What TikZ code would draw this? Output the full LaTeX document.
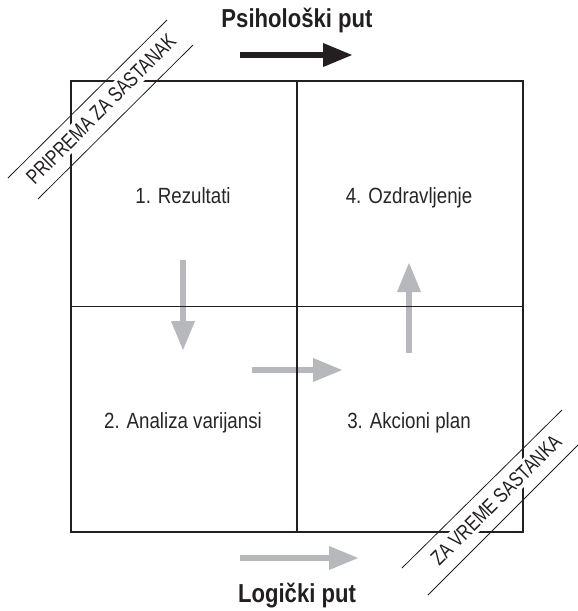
\documentclass[tikz,border=0pt]{standalone}
\usepackage{fontspec}
\usepackage{xcolor}
\usepackage{tikz}
\usetikzlibrary{arrows.meta}
\newfontfamily\narrowfont[FakeStretch=0.85]{Liberation Sans}
\newfontfamily\bandfont[FakeStretch=0.78]{Liberation Sans}
\definecolor{flowgray}{RGB}{183,184,187}
\definecolor{boxline}{RGB}{35,31,32}
\tikzstyle{flowhead}=[>/.tip={Triangle[length=30pt,width=22pt]}]
\tikzstyle{flow}=[line width=6.5pt,flowhead,->,draw=flowgray]
\tikzstyle{cell}=[font=\narrowfont\fontsize{22}{26}\selectfont,text=black!85,anchor=base]
\tikzstyle{heading}=[font=\narrowfont\bfseries\fontsize{26}{30}\selectfont,text=boxline,anchor=base]
\tikzstyle{band}=[font=\bandfont\fontsize{21}{24}\selectfont,text=boxline,fill=white,inner xsep=0pt,inner ysep=3pt,rotate=45]
\tikzstyle{bandline}=[line width=.8pt,draw=boxline]

\begin{document}
\begin{tikzpicture}[x=1pt,y=-1pt]
	\useasboundingbox (0,0) rectangle (578,611);
	% arrows
	\coordinate (ps) at (240,55);   \coordinate (pe) at (353,55);
	\coordinate (ls) at (240,558);  \coordinate (le) at (359,558);
	\coordinate (ds) at (183,260);  \coordinate (de) at (183,351);
	\coordinate (rs) at (252,370);  \coordinate (re) at (343,370);
	\coordinate (us) at (409,353);  \coordinate (ue) at (409,262);
	\draw[flow,draw=boxline] (ps) -- (pe);
	\draw[flow] (ls) -- (le);
	\draw[flow] (ds) -- (de);
	\draw[flow] (rs) -- (re);
	\draw[flow] (us) -- (ue);
	% box
	\coordinate (NW) at (71,81);   \coordinate (SE) at (523,532);
	\coordinate (N) at (297,81);   \coordinate (S) at (297,532);
	\coordinate (W) at (71,306.5); \coordinate (E) at (523,306.5);
	\draw[line width=1.4pt,draw=boxline] (NW) rectangle (SE) (N) -- (S) (W) -- (E);
	\node[cell] (res) at (183,203) {1. Rezultati};
	\node[cell] (ozd) at (409,203) {4. Ozdravljenje};
	\node[cell] (ana) at (183,428) {2. Analiza varijansi};
	\node[cell] (akc) at (409,428) {3. Akcioni plan};
	\node[heading] (psi) at (297,27) {Psihološki put};
	\node[heading] (log) at (297,602) {Logički put};
	% bands
	\node[band] (prep) at (101,109) {PRIPREMA ZA SASTANAK};
	\draw[bandline] (8,178) -- (167,20) (38,199) -- (193,45);
	\node[band] (vrem) at (496,500) {ZA VREME SASTANKA};
	\draw[bandline] (402,568) -- (562,410) (428,595) -- (590,433);
\end{tikzpicture}
\end{document}
